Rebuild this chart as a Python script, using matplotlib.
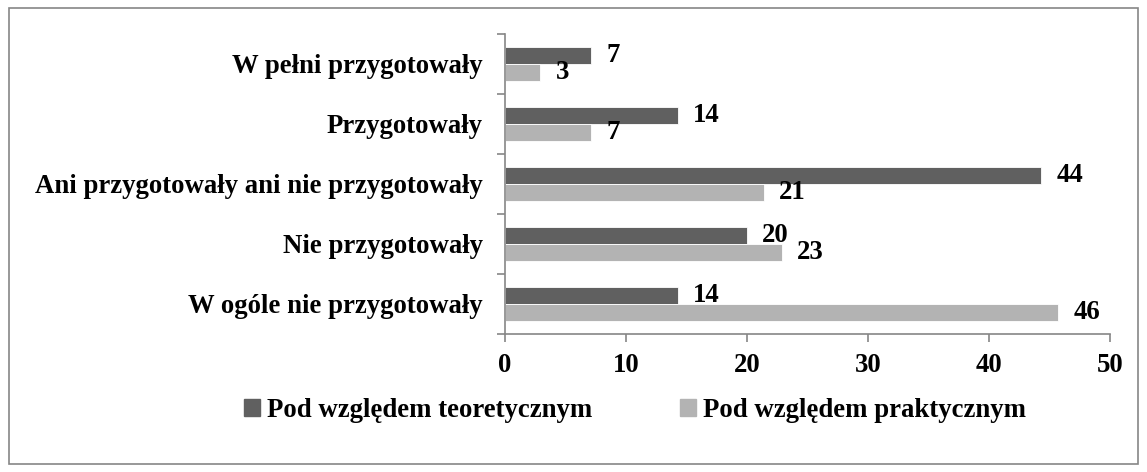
import numpy as np
import matplotlib
import matplotlib.pyplot as plt
from matplotlib.patches import Patch, Rectangle

matplotlib.rc("font", family="Liberation Serif", weight="bold", size=19.3)

# Categories, bottom to top as they appear on the axis
categories = [
    "W ogóle nie przygotowały",
    "Nie przygotowały",
    "Ani przygotowały ani nie przygotowały",
    "Przygotowały",
    "W pełni przygotowały",
]
series_names = ["Pod względem teoretycznym", "Pod względem praktycznym"]
theoretical = [14.3, 20.0, 44.3, 14.3, 7.1]
practical = [45.7, 22.9, 21.4, 7.1, 2.9]
x_ticks = [0, 10, 20, 30, 40, 50]

dark = "#606060"
light = "#b3b3b3"
axis_grey = "#868686"

fig = plt.figure(figsize=(11.47, 4.72), dpi=100)
ax = fig.add_axes([0.4403, 0.2924, 0.5274, 0.6356])

# outer chart border
fig.patches.append(Rectangle((0.0075, 0.017), 0.985, 0.966, transform=fig.transFigure,
                             fill=False, edgecolor=axis_grey, lw=1.2))

y = np.arange(len(categories))
h = 0.283
b1 = ax.barh(y + h/2, theoretical, height=h, color=dark, edgecolor="white", lw=0.6)
b2 = ax.barh(y - h/2, practical, height=h, color=light, edgecolor="white", lw=0.6)

ax.bar_label(b1, labels=[f"{v:.0f}" for v in theoretical], padding=11)
ax.bar_label(b2, labels=[f"{v:.0f}" for v in practical], padding=11)

ax.set_xlim(0, 50)
ax.set_ylim(-0.5, len(categories) - 0.5)
ax.set_xticks(x_ticks)
ax.set_yticks(y)
ax.set_yticklabels(categories)
ax.set_yticks(np.arange(-0.5, len(categories)), minor=True)
ax.tick_params(axis="y", which="major", length=0, pad=16)
ax.tick_params(axis="y", which="minor", length=6, color=axis_grey, width=1.2)
ax.tick_params(axis="x", length=6, color=axis_grey, width=1.2, pad=8)

for side in ["top", "right"]:
    ax.spines[side].set_visible(False)
for side in ["left", "bottom"]:
    ax.spines[side].set_color(axis_grey)
    ax.spines[side].set_linewidth(1.2)

handles = [Patch(color=dark), Patch(color=light)]
fig.legend(handles, series_names, loc="center", bbox_to_anchor=(0.5536, 0.131),
           ncol=2, frameon=False, handlelength=0.6, handleheight=0.6,
           handletextpad=0.25, columnspacing=3.3)

plt.savefig("out.png", dpi=100)
